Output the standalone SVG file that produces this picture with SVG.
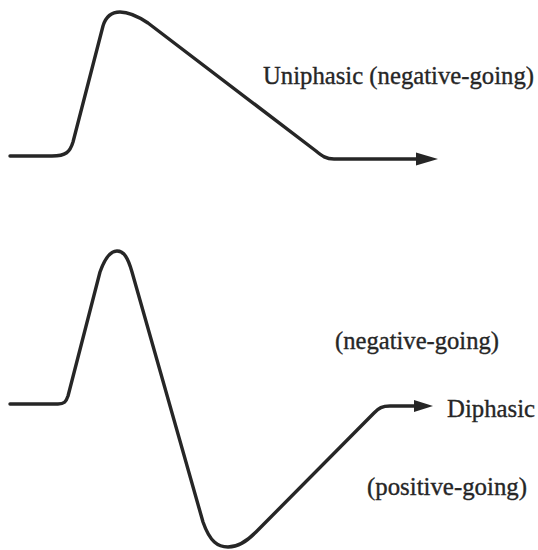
<svg xmlns="http://www.w3.org/2000/svg" width="538" height="550" viewBox="0 0 538 550">
<style>
.wave{fill:none;stroke:#262626;stroke-width:3.4;stroke-linecap:round;stroke-linejoin:round}
.head{fill:#262626}
.lbl{font-family:"Liberation Serif","Times New Roman",serif;font-size:25px;fill:#262626;stroke:#262626;stroke-width:0.35}
</style>
<rect width="538" height="550" fill="#ffffff"/>
<g id="connectors">
<path id="uniphasic-wave" class="wave" d="M10,156 L52,156 C66,156 70,152 73,142 L103,26 C106,16 112,12 120,12 C128,12 136,15 148,23 L316,151 C322,156 326,159 334,159 L420,159"/>
<polygon class="head" points="438,159 416,152.5 416,165.5"/>
<path id="diphasic-wave" class="wave" d="M10,404 L58,404 C64,404 66,402 68,396 L100,272 C105,258 110,251 117,251 C124,251 128,258 132,272 L203,522 C210,542 218,547 228,547 C238,547 246,542 256,532 L374,413 C379,408 382,406 390,406 L416,406"/>
<polygon class="head" points="433,406 414,400 414,412"/>
</g>
<g id="label-uniphasic"><text class="lbl" x="263" y="84" textLength="271" lengthAdjust="spacingAndGlyphs">Uniphasic (negative-going)</text></g>
<g id="label-negative"><text class="lbl" x="335" y="349" textLength="164" lengthAdjust="spacingAndGlyphs">(negative-going)</text></g>
<g id="label-diphasic"><text class="lbl" x="447" y="417" textLength="88" lengthAdjust="spacingAndGlyphs">Diphasic</text></g>
<g id="label-positive"><text class="lbl" x="367" y="495" textLength="160" lengthAdjust="spacingAndGlyphs">(positive-going)</text></g>
</svg>
